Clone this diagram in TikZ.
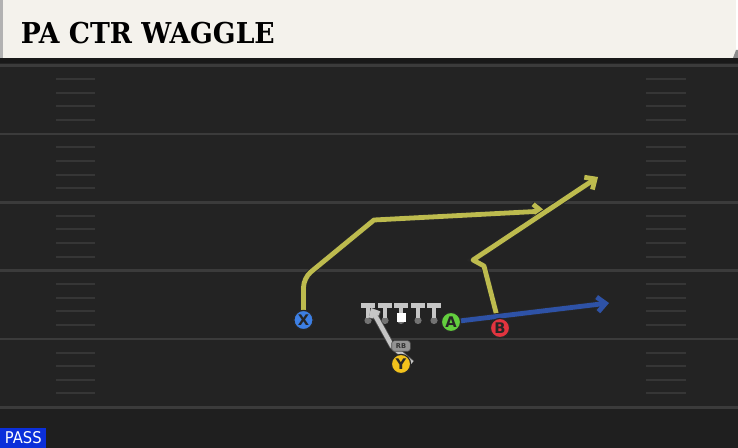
\documentclass[tikz,border=0pt]{standalone}
\usepackage{fontspec}
\setmainfont{DejaVu Sans}
\newfontfamily\titlefont{DejaVu Serif}
\usetikzlibrary{arrows.meta}

\definecolor{fieldgray}{HTML}{232323}
\definecolor{endgray}{HTML}{1F1F1F}
\definecolor{linegray}{HTML}{3B3B3B}
\definecolor{hashgray}{HTML}{363636}
\definecolor{titlebg}{HTML}{F4F2EC}
\definecolor{routeyellow}{HTML}{BDBB4E}
\definecolor{routeblue}{HTML}{2E52A6}
\definecolor{passblue}{HTML}{0B2FDA}
\definecolor{xblue}{HTML}{3D7FE3}
\definecolor{agreen}{HTML}{63CF3E}
\definecolor{bred}{HTML}{E2343F}
\definecolor{yyellow}{HTML}{F2C21C}
\definecolor{olgray}{HTML}{C6C6C6}

\begin{document}
\begin{tikzpicture}[x=0.75pt,y=-0.75pt,
  yardline/.style={linegray,line width=2pt},
  hashmark/.style={hashgray,line width=1.5pt},
  player/.style={circle,draw=black!85,line width=0.9pt,minimum size=14.4pt,inner sep=0pt,
    font=\bfseries\fontsize{11}{11}\selectfont,text=black!85},
  route/.style={line width=3.6pt,line cap=round,line join=round,
    -{Straight Barb[length=6pt,width=11pt]},preaction={draw=black!85,line width=5pt}},
  rbpath/.style={olgray,line width=3.4pt,line join=round,
    -{Straight Barb[length=4pt,width=7pt]},preaction={draw=black!70,line width=4.6pt}}]
  \useasboundingbox (0,0) rectangle (738,448);

  % field
  \fill[fieldgray] (0,58) rectangle (738,448);
  \fill[endgray] (0,409) rectangle (738,448);
  \fill[black!90] (0,58) rectangle (738,63);
  \foreach \k in {0,...,5}
    \draw[yardline] (0,65.5+68.4*\k) -- (738,65.5+68.4*\k);
  \foreach \k in {0,...,4}
    \foreach \j in {1,...,4} {
      \draw[hashmark] (56,65.5+68.4*\k+13.6*\j) -- (95,65.5+68.4*\k+13.6*\j);
      \draw[hashmark] (646,65.5+68.4*\k+13.6*\j) -- (686,65.5+68.4*\k+13.6*\j);
    }

  % title bar
  \fill[titlebg] (0,0) rectangle (736,58);
  \fill[black!30] (0,0) rectangle (3,58);
  \fill[black!45] (736,50) -- (738,50) -- (738,58) -- (733,58) -- cycle;
  \node[anchor=base west,inner sep=0pt] (title) at (20.5,43.3)
    {\resizebox{190.5pt}{16pt}{\titlefont\bfseries PA CTR WAGGLE}};

  % play type
  \node[fill=passblue,anchor=south west,minimum width=34.5pt,minimum height=15pt,inner sep=0pt,
    text=white] (pass) at (0,448) {\resizebox{27.5pt}{9pt}{PASS}};

  % line
  \foreach \ox in {368,385,401,418,434} {
    \fill[black!55] (\ox,320.5) circle (2.7pt);
    \draw[olgray,line width=3pt] (\ox,306) -- (\ox,318);
    \draw[olgray,line width=3.8pt] (\ox-7,305.5) -- (\ox+7,305.5);
  }
  \fill[white] (397,313) rectangle (405.5,322);

  \node[player,fill=xblue] (X) at (303.5,320) {X};
  \node[player,fill=agreen] (A) at (451,322) {A};
  \node[player,fill=bred] (B) at (500,328) {B};
  \node[player,fill=yyellow] (Y) at (401,364) {Y};

  \coordinate (x1) at (303.5,278);
  \coordinate (x2) at (374,220);
  \coordinate (x3) at (545,211);
  \coordinate (b1) at (484,266);
  \coordinate (b2) at (473,260);
  \coordinate (b3) at (598,177);
  \coordinate (a1) at (609,303);
  \coordinate (rb0) at (412,363);
  \coordinate (rb1) at (392,346);
  \coordinate (rb2) at (371,308);

  % fake to the back
  \draw[rbpath] (rb0) -- (rb1) -- (rb2);
  \node[fill=black!42,draw=black!70,line width=0.5pt,rounded corners=2pt,inner sep=1pt,
    minimum width=14pt,minimum height=8pt,font=\bfseries\fontsize{5}{5}\selectfont,
    text=black!80] (rb) at (401,346) {RB};

  % routes
  \draw[route,routeyellow] (X) [rounded corners=7pt] -- (x1) [sharp corners] -- (x2) -- (x3);
  \draw[route,routeyellow] (B) -- (b1) -- (b2) -- (b3);
  \draw[route,routeblue] (A) -- (a1);

  \node[player,fill=xblue] at (X) {X};
  \node[player,fill=agreen] at (A) {A};
  \node[player,fill=bred] at (B) {B};
  \node[player,fill=yyellow] at (Y) {Y};
\end{tikzpicture}
\end{document}
